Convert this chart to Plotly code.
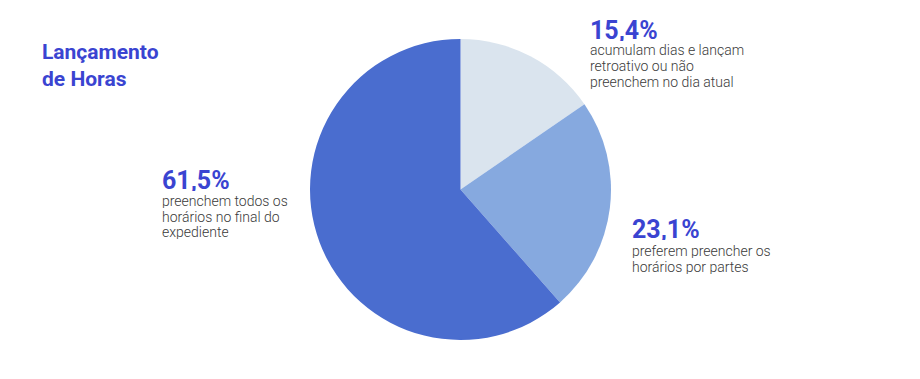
import plotly.graph_objects as go

W, H = 920, 379
OFF = 8  # page body margin compensation

# Data
categories = ["acumulam dias e lançam retroativo ou não preenchem no dia atual",
              "preferem preencher os horários por partes",
              "preenchem todos os horários no final do expediente"]
values = [15.4, 23.1, 61.5]
value_labels = ["15,4%", "23,1%", "61,5%"]
desc_lines = [
    ["acumulam dias e lançam", "retroativo ou não", "preenchem no dia atual"],
    ["preferem preencher os", "horários por partes"],
    ["preenchem todos os", "horários no final do", "expediente"],
]
slice_colors = ["#dae4ee", "#86a9df", "#4a6dcf"]
title_text = "Lançamento<br>de Horas"

ACCENT = "#3a44d1"
GREY = "#3a3a3a"
FONT = "Roboto"

def px_x(x):
    return (x - OFF) / W

def px_y(y):
    return 1 - (y - OFF) / H

fig = go.Figure()
fig.add_trace(go.Pie(
    labels=categories,
    values=values,
    sort=False,
    direction="clockwise",
    rotation=0,
    marker=dict(colors=slice_colors, line=dict(width=0)),
    textinfo="none",
    hoverinfo="label+percent",
    showlegend=False,
    domain=dict(x=[px_x(310), px_x(611)], y=[px_y(340), px_y(39)]),
))

annotations = []
# Title
annotations.append(dict(
    text="<b>" + title_text + "</b>", x=px_x(40), y=px_y(66), xref="paper", yref="paper",
    xanchor="left", yanchor="middle", align="left", showarrow=False,
    font=dict(family=FONT, size=21, color=ACCENT)))

# label blocks: (x, big number center y, first desc line center y)
label_pos = [(588, 30, 50.5), (630, 229, 251), (160, 180, 201.2)]
line_step = 15.6
for i, (x, yn, yd) in enumerate(label_pos):
    annotations.append(dict(
        text="<b>" + value_labels[i] + "</b>", x=px_x(x), y=px_y(yn),
        xref="paper", yref="paper", xanchor="left", yanchor="middle",
        height=22, valign="middle",
        showarrow=False, font=dict(family=FONT, size=25, color=ACCENT)))
    for j, line in enumerate(desc_lines[i]):
        annotations.append(dict(
            text=line, x=px_x(x), y=px_y(yd + j * line_step),
            xref="paper", yref="paper", xanchor="left", yanchor="middle",
            height=14, valign="middle",
            showarrow=False, font=dict(family=FONT, size=14, color=GREY, weight=300)))

fig.update_layout(
    width=W, height=H,
    margin=dict(l=0, r=0, t=0, b=0),
    paper_bgcolor="white", plot_bgcolor="white",
    annotations=annotations,
)

fig.write_html("out.html")
